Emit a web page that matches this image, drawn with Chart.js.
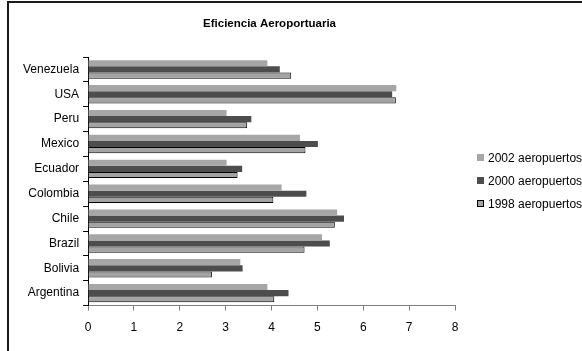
<!DOCTYPE html>
<html>
<head>
<meta charset="utf-8">
<script src="https://cdn.jsdelivr.net/npm/chart.js@4/dist/chart.umd.min.js"></script>
<style>
  html, body { margin: 0; padding: 0; background: #fff; overflow: hidden; }
  #wrap { position: relative; width: 582px; height: 351px; }
  #legend { position: absolute; left: 477px; top: 151px; font: 12px 'Liberation Sans', Arial, sans-serif; color: #000; white-space: nowrap; }
  #legend .item { height: 23px; line-height: 14px; display: flex; align-items: flex-start; }
  #legend .box { width: 7px; height: 7px; margin: 3px 4px 0 0; box-sizing: border-box; }
</style>
</head>
<body>
<div id="wrap"><canvas id="chart"></canvas><div id="legend"></div></div>
<script>
// data
const countries = ["Venezuela", "USA", "Peru", "Mexico", "Ecuador", "Colombia", "Chile", "Brazil", "Bolivia", "Argentina"];
const values2002 = [3.91, 6.72, 3.02, 4.62, 3.02, 4.22, 5.43, 5.10, 3.32, 3.91];
const values2000 = [4.18, 6.63, 3.56, 5.01, 3.36, 4.76, 5.58, 5.27, 3.37, 4.37];
const values1998 = [4.43, 6.71, 3.47, 4.74, 3.26, 4.04, 5.38, 4.72, 2.70, 4.06];
const xTicks = [0, 1, 2, 3, 4, 5, 6, 7, 8];
const chartTitle = "Eficiencia Aeroportuaria";

Chart.defaults.font.family = "'Liberation Sans', Arial, sans-serif";
Chart.defaults.font.size = 12;
Chart.defaults.color = "#000";

// outer frame + title centred over the plot
const framePlugin = {
  id: "frame",
  afterDraw(chart) {
    const ctx = chart.ctx;
    const area = chart.chartArea;
    ctx.save();
    ctx.strokeStyle = "#1a1a1a";
    ctx.lineWidth = 2;
    ctx.beginPath();
    ctx.moveTo(8, chart.height + 5);
    ctx.lineTo(8, 2);
    ctx.lineTo(chart.width + 5, 2);
    ctx.stroke();
    ctx.fillStyle = "#000";
    ctx.font = "bold 11.5px 'Liberation Sans', Arial, sans-serif";
    ctx.textAlign = "center";
    ctx.textBaseline = "middle";
    ctx.fillText(chartTitle, (area.left + area.right) / 2 - 2, 24);
    ctx.restore();
  }
};

const chart = new Chart(document.getElementById("chart"), {
  type: "bar",
  data: {
    labels: countries,
    datasets: [
      { label: "2002 aeropuertos", data: values2002, backgroundColor: "#a6a6a6", borderWidth: 0 },
      { label: "2000 aeropuertos", data: values2000, backgroundColor: "#4d4d4d", borderWidth: 0 },
      { label: "1998 aeropuertos", data: values1998, backgroundColor: "#a3a3a3", borderColor: "#000", borderWidth: 1 }
    ]
  },
  options: {
    indexAxis: "y",
    responsive: true,
    maintainAspectRatio: false,
    animation: false,
    datasets: { bar: { barPercentage: 1, categoryPercentage: 0.74 } },
    layout: { padding: { top: 57, bottom: 6, left: 19, right: 127 } },
    scales: {
      x: {
        min: 0,
        max: 8,
        afterBuildTicks(axis) { axis.ticks = xTicks.map(v => ({ value: v })); },
        grid: { drawOnChartArea: false, color: "#808080", tickLength: 5 },
        border: { color: "#808080", width: 1 },
        ticks: { padding: 10, font: { size: 12 } }
      },
      y: {
        grid: { drawOnChartArea: false, color: "#000", tickLength: 5, offset: true },
        border: { color: "#000", width: 1 },
        ticks: { padding: 4, font: { size: 12 } }
      }
    },
    plugins: {
      title: { display: false },
      tooltip: { enabled: false },
      legend: { display: false }
    }
  },
  plugins: [framePlugin]
});

// legend built from the datasets
const legendEl = document.getElementById("legend");
chart.data.datasets.forEach((ds) => {
  const item = document.createElement("div");
  item.className = "item";
  const box = document.createElement("span");
  box.className = "box";
  box.style.background = ds.backgroundColor;
  if (ds.borderWidth) box.style.border = ds.borderWidth + "px solid " + ds.borderColor;
  const txt = document.createElement("span");
  txt.textContent = ds.label;
  item.appendChild(box);
  item.appendChild(txt);
  legendEl.appendChild(item);
});
</script>
</body>
</html>
